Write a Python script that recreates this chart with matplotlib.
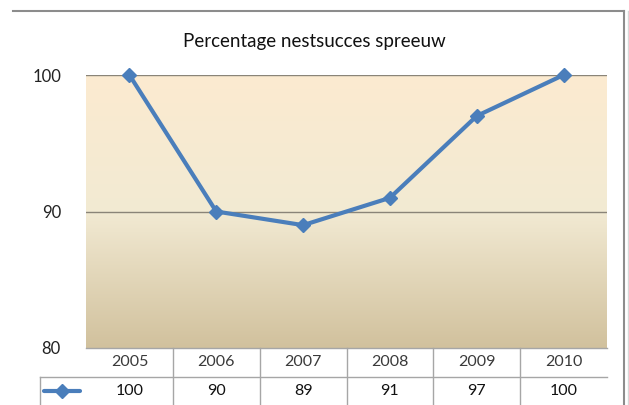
import numpy as np
import matplotlib
matplotlib.use("Agg")
import matplotlib.pyplot as plt
from matplotlib.colors import LinearSegmentedColormap
from matplotlib.lines import Line2D
from matplotlib.transforms import blended_transform_factory

plt.rcParams['font.family'] = ['Lato', 'DejaVu Sans']

# data
years = ['2005', '2006', '2007', '2008', '2009', '2010']
succes = [100, 90, 89, 91, 97, 100]
yticks = [80, 90, 100]
title = 'Percentage nestsucces spreeuw'

W, H = 629, 405
fig = plt.figure(figsize=(W / 100, H / 100), dpi=100)

# background layer in pixel coords (for borders)
bg = fig.add_axes([0, 0, 1, 1])
bg.set_xlim(0, W)
bg.set_ylim(H, 0)
bg.axis('off')
bg.plot([13, 624], [11, 11], color='#8c8c8c', lw=1.5)
bg.plot([624, 624], [11, H], color='#8c8c8c', lw=1.5)
bg.plot([628, 628], [11, H], color='#d8d8d8', lw=1)

# plot area: x 86..607, y 75..348 (pixels)
L, R, T, B = 86, 607, 75, 348
ax = fig.add_axes([L / W, 1 - B / H, (R - L) / W, (B - T) / H])
ax.set_xlim(-0.5, len(years) - 0.5)
ax.set_ylim(80, 100)

# gradient fill (top pale orange -> bottom tan)
cmap = LinearSegmentedColormap.from_list('bg', ['#fcebd0', '#f2ead3', '#d1c19d'])
grad = np.linspace(0, 1, 256).reshape(-1, 1)
ax.imshow(grad, extent=[-0.5, len(years) - 0.5, 80, 100], origin='upper',
          aspect='auto', cmap=cmap, zorder=0)

for v in yticks[1:]:
    ax.axhline(v, color='#8a8478', lw=1, zorder=1)

x = np.arange(len(years))
ax.plot(x, succes, color='#4a7ebb', lw=3, marker='D', markersize=7.5,
        zorder=3, clip_on=False)

ax.set_yticks(yticks)
ax.set_yticklabels([str(t) for t in yticks], fontsize=12, color='#222222')
ax.tick_params(axis='y', length=0, pad=18)
ax.set_xticks([])
for s in ax.spines.values():
    s.set_visible(False)

fig.text(0.5, 1 - 42 / H, title, ha='center', va='center', fontsize=13.5, color='#111111')

# data table below the plot
def ay(py):
    return (B - py) / (B - T)

tr = blended_transform_factory(ax.transData, ax.transAxes)
line_kw = dict(color='#a6a6a6', lw=1, clip_on=False, transform=ax.transAxes)
ax.add_line(Line2D([0, 1], [0, 0], **line_kw))
ax.add_line(Line2D([(40 - L) / (R - L), 1], [ay(377), ay(377)], **line_kw))
ax.add_line(Line2D([(40 - L) / (R - L)] * 2, [ay(377), ay(H + 5)], **line_kw))
for i in range(1, len(years)):
    ax.add_line(Line2D([i - 0.5, i - 0.5], [0, ay(H + 5)], color='#a6a6a6', lw=1,
                       clip_on=False, transform=tr))

for i, (yr, v) in enumerate(zip(years, succes)):
    ax.text(i, ay(362), yr, transform=tr, ha='center', va='center',
            fontsize=11.5, color='#3a3a3a', clip_on=False)
    ax.text(i, ay(391), str(v), transform=tr, ha='center', va='center',
            fontsize=11.5, color='#111111', clip_on=False)

# legend key in table
bg.plot([44, 80], [391, 391], color='#4a7ebb', lw=3, solid_capstyle='round')
bg.plot([62], [391], marker='D', color='#4a7ebb', markersize=7.5)

fig.savefig('out.png', dpi=100)
